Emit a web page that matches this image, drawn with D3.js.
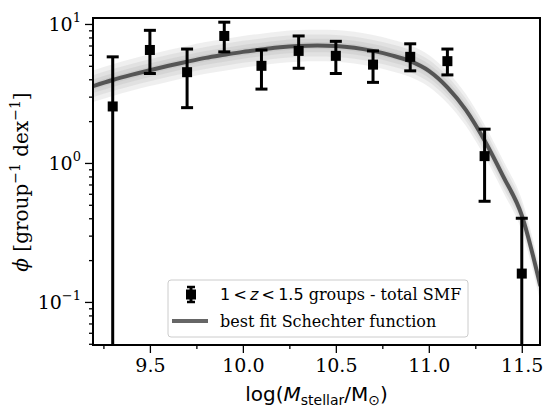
<!DOCTYPE html><html><head><meta charset="utf-8">
<script src="https://cdn.jsdelivr.net/npm/d3@7"></script>
<style>body{margin:0;background:#fff}text{font-family:"DejaVu Serif",serif}</style></head><body>
<svg id="c" width="560" height="413"></svg>
<script>
const massX=[9.3,9.5,9.7,9.9,10.1,10.3,10.5,10.7,10.9,11.1,11.3,11.5];
const phiY=[2.55,6.5,4.5,8.2,5.0,6.4,5.9,5.1,5.8,5.4,1.12,0.16];
const errLo=[0.01,4.4,2.5,6.3,3.4,4.8,4.4,3.8,4.6,4.3,0.53,0.01];
const errHi=[5.8,9.0,6.6,10.3,6.5,8.2,7.5,6.4,7.2,6.6,1.75,0.40];
const fitX=[9.19,9.3,9.4,9.5,9.6,9.7,9.8,9.9,10.0,10.1,10.2,10.3,10.4,10.5,10.6,10.7,10.8,10.9,11.0,11.1,11.2,11.3,11.4,11.5,11.6];
const fitY=[3.55,3.95,4.3,4.65,5.0,5.35,5.7,6.0,6.3,6.55,6.8,6.95,7.0,6.95,6.75,6.4,5.95,5.4,4.6,3.5,2.4,1.45,0.8,0.42,0.13];
const xTicks=[9.5,10.0,10.5,11.0,11.5];
const xMinor=[9.25,9.75,10.25,10.75,11.25];
const yTicks=[0.1,1,10];
const svg=d3.select("#c");
const L=93,R=540,T=18,B=345;
const x=d3.scaleLinear().domain([9.194,11.598]).range([L,R]);
const y=d3.scaleLog().domain([0.049,11.04]).range([B,T]);
const g=svg.append("g");
svg.append("clipPath").attr("id","cp").append("rect").attr("x",L).attr("y",T).attr("width",R-L).attr("height",B-T);
[1.3,1.2,1.12,1.06].forEach(f=>{
 g.append("path").attr("clip-path","url(#cp)").attr("d",d3.area().x((d,i)=>x(fitX[i])).y0(d=>y(d/f)).y1(d=>y(d*f)).curve(d3.curveMonotoneX)(fitY)).attr("fill","#999").attr("opacity",0.16);
});
g.append("path").attr("clip-path","url(#cp)").attr("d",d3.line().x((d,i)=>x(fitX[i])).y(d=>y(d)).curve(d3.curveMonotoneX)(fitY)).attr("fill","none").attr("stroke","#555").attr("stroke-width",4);
massX.forEach((m,i)=>{
 const cx=x(m);
 g.append("line").attr("clip-path","url(#cp)").attr("x1",cx).attr("x2",cx).attr("y1",y(Math.max(errLo[i],0.01))).attr("y2",y(errHi[i])).attr("stroke","#000").attr("stroke-width",3);
 [errLo[i],errHi[i]].forEach(v=>{if(v>0.049)g.append("line").attr("x1",cx-6).attr("x2",cx+6).attr("y1",y(v)).attr("y2",y(v)).attr("stroke","#000").attr("stroke-width",3);});
 g.append("rect").attr("x",cx-5).attr("y",y(phiY[i])-5).attr("width",10).attr("height",10).attr("fill","#000");
});
const xa=svg.append("g").attr("transform",`translate(0,${B})`).call(d3.axisBottom(x).tickValues(xTicks).tickFormat(d3.format(".1f")).tickSize(8).tickPadding(6));
svg.append("g").attr("transform",`translate(0,${B})`).call(d3.axisBottom(x).tickValues(xMinor).tickFormat("").tickSize(4));
svg.append("g").attr("transform",`translate(${L},0)`).call(d3.axisLeft(y).tickValues(yTicks).tickFormat("").tickSize(8));
const minors=[];[0.01,0.1,1,10].forEach(d=>{for(let k=2;k<10;k++){const v=d*k;if(v>=0.049&&v<=11.04)minors.push(v);}});
svg.append("g").attr("transform",`translate(${L},0)`).call(d3.axisLeft(y).tickValues(minors).tickFormat("").tickSize(4));
svg.selectAll(".domain").remove();
svg.selectAll(".tick line").attr("stroke","#000").attr("stroke-width",1.3);
xa.selectAll("text").attr("font-size",19).attr("fill","#000").style("font-family","DejaVu Serif");
const yl=["−1","0","1"];
yTicks.forEach((v,i)=>{const t=svg.append("text").attr("x",L-12).attr("y",y(v)+7).attr("text-anchor","end").attr("font-size",19);
 t.append("tspan").text("10");t.append("tspan").attr("dy",-9).attr("font-size",13).text(yl[i]);});
svg.append("rect").attr("x",L).attr("y",T).attr("width",R-L).attr("height",B-T).attr("fill","none").attr("stroke","#000").attr("stroke-width",2);
const xl=svg.append("text").attr("x",(L+R)/2).attr("y",401).attr("text-anchor","middle").attr("font-size",20).style("font-family","DejaVu Sans");
xl.append("tspan").text("log(");xl.append("tspan").attr("font-style","italic").text("M");xl.append("tspan").attr("dy",4).attr("font-size",14).text("stellar");
xl.append("tspan").attr("dy",-4).text("/M");xl.append("tspan").attr("dy",4).attr("font-size",14).text("⊙");xl.append("tspan").attr("dy",-4).text(")");
const ylab=svg.append("text").attr("transform","translate(28,182) rotate(-90)").attr("text-anchor","middle").attr("font-size",20);
ylab.append("tspan").attr("font-style","italic").text("ϕ");ylab.append("tspan").text(" [group");ylab.append("tspan").attr("dy",-8).attr("font-size",14).text("−1");
ylab.append("tspan").attr("dy",8).text(" dex");ylab.append("tspan").attr("dy",-8).attr("font-size",14).text("−1");ylab.append("tspan").attr("dy",8).text("]");
// legend
svg.append("rect").attr("x",168).attr("y",280).attr("width",300).attr("height",57).attr("rx",3).attr("fill","#fff").attr("fill-opacity",0.85).attr("stroke","#ccc");
svg.append("line").attr("x1",191).attr("x2",191).attr("y1",287).attr("y2",302).attr("stroke","#000").attr("stroke-width",3);
[287,302].forEach(v=>svg.append("line").attr("x1",187).attr("x2",195).attr("y1",v).attr("y2",v).attr("stroke","#000").attr("stroke-width",2.5));
svg.append("rect").attr("x",186).attr("y",289.5).attr("width",10).attr("height",10).attr("fill","#000");
const l1=svg.append("text").attr("x",220).attr("y",300).attr("font-size",16);
l1.append("tspan").style("font-family","DejaVu Sans").text("1\u2009<\u2009");l1.append("tspan").style("font-family","DejaVu Sans").attr("font-style","italic").text("z");l1.append("tspan").style("font-family","DejaVu Sans").text("\u2009<\u20091.5");l1.append("tspan").text(" groups - total SMF");
svg.append("line").attr("x1",172).attr("x2",208).attr("y1",321).attr("y2",321).attr("stroke","#666").attr("stroke-width",4);
svg.append("text").attr("x",220).attr("y",327).attr("font-size",16).text("best fit Schechter function");
</script></body></html>
